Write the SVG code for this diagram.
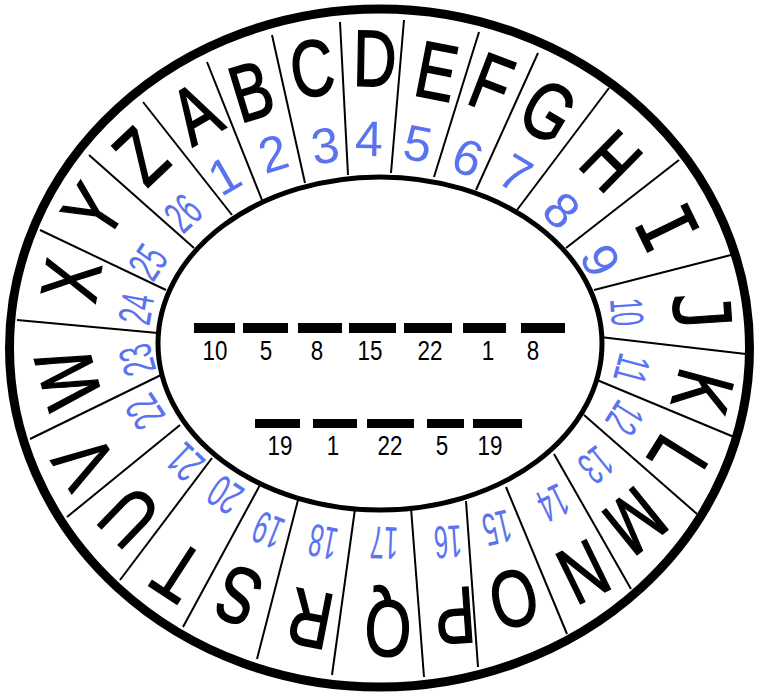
<svg xmlns="http://www.w3.org/2000/svg" width="759" height="694" viewBox="0 0 759 694">
<style>
.ring{fill:none;stroke:#000}
.div{stroke:#000;stroke-width:2}
.L{font-family:"Liberation Sans","DejaVu Sans",sans-serif;font-size:80px;fill:#000;stroke:#000;stroke-width:1.6;text-anchor:middle}
.M{font-family:"DejaVu Sans Mono","Liberation Mono",monospace;font-size:78px;fill:#000;stroke:#000;stroke-width:1.2;text-anchor:middle}
.N{font-family:"Liberation Sans","DejaVu Sans",sans-serif;font-size:50px;fill:#5b73ee;text-anchor:middle}
.N2{font-family:"Liberation Sans","DejaVu Sans",sans-serif;font-size:46px;fill:#5b73ee;text-anchor:middle}
.C{font-family:"Liberation Sans","DejaVu Sans",sans-serif;font-size:28px;fill:#000;text-anchor:middle}
.bar{fill:#000}
</style>
<rect width="759" height="694" fill="#fff"/>
<g id="wheel">
<ellipse class="ring" cx="379.5" cy="348" rx="370" ry="339" stroke-width="9" fill="#fff"/>
<ellipse class="ring" cx="380" cy="343.5" rx="222" ry="166.5" stroke-width="5"/>
</g>
<g id="connectors">
<line class="div" x1="232" y1="215" x2="143" y2="102"/>
<line class="div" x1="262" y1="200" x2="207" y2="62"/>
<line class="div" x1="305" y1="183" x2="272" y2="35"/>
<line class="div" x1="348" y1="175" x2="340" y2="22"/>
<line class="div" x1="391" y1="173" x2="404" y2="20"/>
<line class="div" x1="434" y1="177" x2="479" y2="32"/>
<line class="div" x1="476" y1="190" x2="538" y2="53"/>
<line class="div" x1="517" y1="210" x2="609" y2="88"/>
<line class="div" x1="566" y1="248" x2="679" y2="160"/>
<line class="div" x1="594" y1="290" x2="731" y2="255"/>
<line class="div" x1="600" y1="337" x2="746" y2="354"/>
<line class="div" x1="597" y1="380" x2="734" y2="437"/>
<line class="div" x1="584" y1="415" x2="697" y2="514"/>
<line class="div" x1="554" y1="454" x2="631" y2="589"/>
<line class="div" x1="506" y1="487" x2="567" y2="634"/>
<line class="div" x1="466" y1="501" x2="478" y2="667"/>
<line class="div" x1="411" y1="508" x2="424" y2="677"/>
<line class="div" x1="355" y1="509" x2="332" y2="675"/>
<line class="div" x1="298" y1="500" x2="257" y2="659"/>
<line class="div" x1="260" y1="485" x2="183" y2="627"/>
<line class="div" x1="212" y1="458" x2="120" y2="580"/>
<line class="div" x1="180" y1="425" x2="67" y2="517"/>
<line class="div" x1="161" y1="375" x2="30" y2="439"/>
<line class="div" x1="158" y1="333" x2="17" y2="320"/>
<line class="div" x1="166" y1="290" x2="40" y2="230"/>
<line class="div" x1="194" y1="248" x2="89" y2="155"/>
</g>
<g id="letters">
<g id="letter-A" transform="translate(195,112) rotate(-30) scale(0.75,1)"><text class="L" y="29">A</text></g>
<g id="letter-B" transform="translate(251,90) rotate(-17) scale(0.75,1)"><text class="L" y="29">B</text></g>
<g id="letter-C" transform="translate(312,67) rotate(-8) scale(0.75,1)"><text class="L" y="29">C</text></g>
<g id="letter-D" transform="translate(375,57) rotate(1) scale(0.75,1)"><text class="L" y="29">D</text></g>
<g id="letter-E" transform="translate(437,70) rotate(11) scale(0.75,1)"><text class="L" y="29">E</text></g>
<g id="letter-F" transform="translate(492,82) rotate(21) scale(0.75,1)"><text class="L" y="29">F</text></g>
<g id="letter-G" transform="translate(549,110) rotate(31) scale(0.75,1)"><text class="L" y="29">G</text></g>
<g id="letter-H" transform="translate(612,160) rotate(44.5) scale(0.75,1)"><text class="L" y="29">H</text></g>
<g id="letter-I" transform="translate(667,228) rotate(64) scale(0.85,1)"><text class="M" y="28">I</text></g>
<g id="letter-J" transform="translate(702,312) rotate(86) scale(0.85,1)"><text class="M" y="28">J</text></g>
<g id="letter-K" transform="translate(704,392) rotate(105) scale(0.75,1)"><text class="L" y="29">K</text></g>
<g id="letter-L" transform="translate(679,460) rotate(122) scale(0.75,1)"><text class="L" y="29">L</text></g>
<g id="letter-M" transform="translate(636,522) rotate(141) scale(0.75,1)"><text class="L" y="29">M</text></g>
<g id="letter-N" transform="translate(584,573) rotate(154) scale(0.75,1)"><text class="L" y="29">N</text></g>
<g id="letter-O" transform="translate(514,600) rotate(167) scale(0.75,1)"><text class="L" y="29">O</text></g>
<g id="letter-P" transform="translate(455,617) rotate(176) scale(0.75,1)"><text class="L" y="29">P</text></g>
<g id="letter-Q" transform="translate(388,630) rotate(182) scale(0.75,1)"><text class="L" y="29">Q</text></g>
<g id="letter-R" transform="translate(310,620) rotate(191) scale(0.75,1)"><text class="L" y="29">R</text></g>
<g id="letter-S" transform="translate(238,597) rotate(202) scale(0.75,1)"><text class="L" y="29">S</text></g>
<g id="letter-T" transform="translate(177,573) rotate(213) scale(0.75,1)"><text class="L" y="29">T</text></g>
<g id="letter-U" transform="translate(128,518) rotate(224) scale(0.75,1)"><text class="L" y="29">U</text></g>
<g id="letter-V" transform="translate(83,463) rotate(237) scale(0.75,1)"><text class="L" y="29">V</text></g>
<g id="letter-W" transform="translate(67,379) rotate(254) scale(0.75,1)"><text class="L" y="29">W</text></g>
<g id="letter-X" transform="translate(70,280) rotate(280) scale(0.75,1)"><text class="L" y="29">X</text></g>
<g id="letter-Y" transform="translate(92,210) rotate(303.5) scale(0.75,1)"><text class="L" y="29">Y</text></g>
<g id="letter-Z" transform="translate(140,155) rotate(316.6) scale(0.75,1)"><text class="L" y="29">Z</text></g>
</g>
<g id="numbers">
<g id="num-1" transform="translate(224,175) rotate(-30)"><text class="N" y="18">1</text></g>
<g id="num-2" transform="translate(273,153) rotate(-17)"><text class="N" y="18">2</text></g>
<g id="num-3" transform="translate(325,145) rotate(-8)"><text class="N" y="18">3</text></g>
<g id="num-4" transform="translate(369,138) rotate(1)"><text class="N" y="18">4</text></g>
<g id="num-5" transform="translate(418,143) rotate(11)"><text class="N" y="18">5</text></g>
<g id="num-6" transform="translate(468,157) rotate(21)"><text class="N" y="18">6</text></g>
<g id="num-7" transform="translate(516,173) rotate(31)"><text class="N" y="18">7</text></g>
<g id="num-8" transform="translate(562,210) rotate(44.5)"><text class="N" y="18">8</text></g>
<g id="num-9" transform="translate(601,260) rotate(64)"><text class="N" y="18">9</text></g>
<g id="num-10" transform="translate(627,312) rotate(86)"><text class="N2" y="16" textLength="28" lengthAdjust="spacingAndGlyphs">10</text></g>
<g id="num-11" transform="translate(632,369) rotate(105)"><text class="N2" y="16" textLength="28" lengthAdjust="spacingAndGlyphs">11</text></g>
<g id="num-12" transform="translate(625,418) rotate(122)"><text class="N2" y="16" textLength="28" lengthAdjust="spacingAndGlyphs">12</text></g>
<g id="num-13" transform="translate(596,465) rotate(141)"><text class="N2" y="16" textLength="28" lengthAdjust="spacingAndGlyphs">13</text></g>
<g id="num-14" transform="translate(553,503) rotate(154)"><text class="N2" y="16" textLength="28" lengthAdjust="spacingAndGlyphs">14</text></g>
<g id="num-15" transform="translate(497,528) rotate(167)"><text class="N2" y="16" textLength="28" lengthAdjust="spacingAndGlyphs">15</text></g>
<g id="num-16" transform="translate(448,542) rotate(176)"><text class="N2" y="16" textLength="28" lengthAdjust="spacingAndGlyphs">16</text></g>
<g id="num-17" transform="translate(384,543) rotate(182)"><text class="N2" y="16" textLength="28" lengthAdjust="spacingAndGlyphs">17</text></g>
<g id="num-18" transform="translate(323,542) rotate(191)"><text class="N2" y="16" textLength="28" lengthAdjust="spacingAndGlyphs">18</text></g>
<g id="num-19" transform="translate(268,530) rotate(202)"><text class="N2" y="16" textLength="28" lengthAdjust="spacingAndGlyphs">19</text></g>
<g id="num-20" transform="translate(225,495) rotate(213)"><text class="N2" y="16" textLength="30" lengthAdjust="spacingAndGlyphs">20</text></g>
<g id="num-21" transform="translate(185,462) rotate(224)"><text class="N2" y="16" textLength="30" lengthAdjust="spacingAndGlyphs">21</text></g>
<g id="num-22" transform="translate(145,412) rotate(237)"><text class="N2" y="16" textLength="30" lengthAdjust="spacingAndGlyphs">22</text></g>
<g id="num-23" transform="translate(137,360) rotate(254)"><text class="N2" y="16" textLength="30" lengthAdjust="spacingAndGlyphs">23</text></g>
<g id="num-24" transform="translate(136,309) rotate(280)"><text class="N2" y="16" textLength="30" lengthAdjust="spacingAndGlyphs">24</text></g>
<g id="num-25" transform="translate(148,262) rotate(303.5)"><text class="N2" y="16" textLength="30" lengthAdjust="spacingAndGlyphs">25</text></g>
<g id="num-26" transform="translate(183,213) rotate(316.6)"><text class="N2" y="16" textLength="30" lengthAdjust="spacingAndGlyphs">26</text></g>
</g>
<g id="puzzle">
<rect class="bar" x="194" y="323" width="41" height="10"/>
<rect class="bar" x="243" y="323" width="45" height="10"/>
<rect class="bar" x="298" y="323" width="44" height="10"/>
<rect class="bar" x="349" y="323" width="47" height="10"/>
<rect class="bar" x="404" y="323" width="48" height="10"/>
<rect class="bar" x="463" y="323" width="43" height="10"/>
<rect class="bar" x="521" y="323" width="44" height="10"/>
<text class="C" transform="translate(215,360) scale(0.8,1)">10</text>
<text class="C" transform="translate(266,360) scale(0.8,1)">5</text>
<text class="C" transform="translate(317,360) scale(0.8,1)">8</text>
<text class="C" transform="translate(370,360) scale(0.8,1)">15</text>
<text class="C" transform="translate(430,360) scale(0.8,1)">22</text>
<text class="C" transform="translate(488,360) scale(0.8,1)">1</text>
<text class="C" transform="translate(533,360) scale(0.8,1)">8</text>
<rect class="bar" x="255" y="419" width="45" height="9"/>
<rect class="bar" x="313" y="419" width="44" height="9"/>
<rect class="bar" x="367" y="419" width="47" height="9"/>
<rect class="bar" x="427" y="419" width="37" height="9"/>
<rect class="bar" x="473" y="419" width="49" height="9"/>
<text class="C" transform="translate(280,455) scale(0.8,1)">19</text>
<text class="C" transform="translate(333,455) scale(0.8,1)">1</text>
<text class="C" transform="translate(390,455) scale(0.8,1)">22</text>
<text class="C" transform="translate(442,455) scale(0.8,1)">5</text>
<text class="C" transform="translate(490,455) scale(0.8,1)">19</text>
</g>
</svg>
